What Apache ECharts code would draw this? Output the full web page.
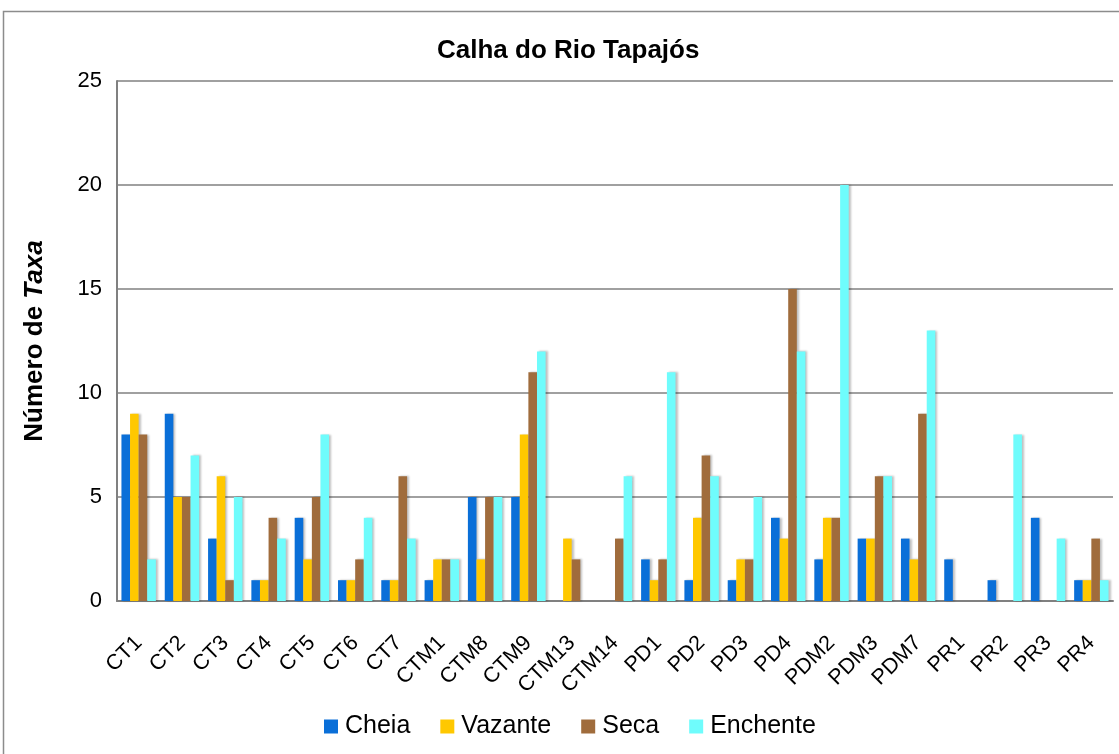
<!DOCTYPE html>
<html>
<head>
<meta charset="utf-8">
<script src="https://cdn.jsdelivr.net/npm/echarts@6/dist/echarts.min.js"></script>
<style>
  html, body { margin: 0; padding: 0; background: #ffffff; }
  #chart { width: 1119px; height: 754px; }
</style>
</head>
<body>
<div id="chart"></div>
<script>
// Sampling stations along the Tapajós river
const categories = ['CT1', 'CT2', 'CT3', 'CT4', 'CT5', 'CT6', 'CT7', 'CTM1', 'CTM8', 'CTM9',
  'CTM13', 'CTM14', 'PD1', 'PD2', 'PD3', 'PD4', 'PDM2', 'PDM3', 'PDM7', 'PR1', 'PR2', 'PR3', 'PR4'];

// Number of taxa per hydrological period
const cheia    = [8, 9, 3, 1, 4, 1, 1, 1, 5, 5, 0, 0, 2, 1, 1, 4, 2, 3, 3, 2, 1, 4, 1];
const vazante  = [9, 5, 6, 1, 2, 1, 1, 2, 2, 8, 3, 0, 1, 4, 2, 3, 4, 3, 2, 0, 0, 0, 1];
const seca     = [8, 5, 1, 4, 5, 2, 6, 2, 5, 11, 2, 3, 2, 7, 2, 15, 4, 6, 9, 0, 0, 0, 3];
const enchente = [2, 7, 5, 3, 8, 4, 3, 2, 5, 12, 0, 6, 11, 6, 5, 12, 20, 6, 13, 0, 8, 3, 1];

const seriesNames = ['Cheia', 'Vazante', 'Seca', 'Enchente'];
const yTicks = { min: 0, max: 25, interval: 5 };

const colors = ['#0a6fd8', '#ffc800', '#a06c3c', '#6ffcfc'];
const FONT = '"Liberation Sans", Arial, sans-serif';

const chart = echarts.init(document.getElementById('chart'), null, { renderer: 'canvas' });

const dataSets = [cheia, vazante, seca, enchente];
const series = dataSets.map((d, i) => ({
  name: seriesNames[i],
  type: 'bar',
  data: d,
  barWidth: 8.6,
  barGap: '0%',
  itemStyle: {
    color: colors[i],
    shadowColor: 'rgba(0,0,0,0.25)',
    shadowBlur: 2,
    shadowOffsetX: 2,
    shadowOffsetY: 0
  },
  emphasis: { disabled: true }
}));

chart.setOption({
  animation: false,
  backgroundColor: '#ffffff',
  title: {
    text: 'Calha do Rio Tapajós',
    left: 432,
    top: 33,
    textStyle: { fontFamily: FONT, fontSize: 26, fontWeight: 'bold', color: '#000' }
  },
  legend: {
    data: seriesNames,
    bottom: 10,
    left: 319,
    itemWidth: 14,
    itemHeight: 14,
    itemGap: 30,
    icon: 'rect',
    textStyle: { fontFamily: FONT, fontSize: 25, color: '#000', padding: [0, 0, 0, 2] }
  },
  grid: { left: 117, right: 6, top: 81, bottom: 153, containLabel: false },
  xAxis: {
    type: 'category',
    data: categories,
    axisLine: { lineStyle: { color: '#808080', width: 2 } },
    axisTick: { show: false },
    axisLabel: {
      rotate: 45,
      interval: 0,
      margin: 23,
      verticalAlign: 'top',
      padding: [0, 11, 0, 0],
      fontFamily: FONT,
      fontSize: 21.5,
      color: '#000'
    }
  },
  yAxis: {
    type: 'value',
    min: yTicks.min,
    max: yTicks.max,
    interval: yTicks.interval,
    name: '{b|Número de }{i|Taxa}',
    nameLocation: 'middle',
    nameGap: 69,
    nameRotate: 90,
    nameTextStyle: {
      rich: {
        b: { fontFamily: FONT, fontSize: 26, fontWeight: 'bold', color: '#000' },
        i: { fontFamily: FONT, fontSize: 26, fontWeight: 'bold', fontStyle: 'italic', color: '#000' }
      }
    },
    axisLine: { show: true, lineStyle: { color: '#808080', width: 2 } },
    axisTick: { show: false },
    splitLine: { lineStyle: { color: '#808080', width: 1.5 } },
    axisLabel: { fontFamily: FONT, fontSize: 22, color: '#000', margin: 15 }
  },
  graphic: [{
    type: 'rect',
    shape: { x: 3.5, y: 11.5, width: 1130, height: 760 },
    style: { fill: 'none', stroke: '#8c8c8c', lineWidth: 1.5 },
    silent: true,
    z: -1
  }],
  series: series
});
</script>
</body>
</html>
